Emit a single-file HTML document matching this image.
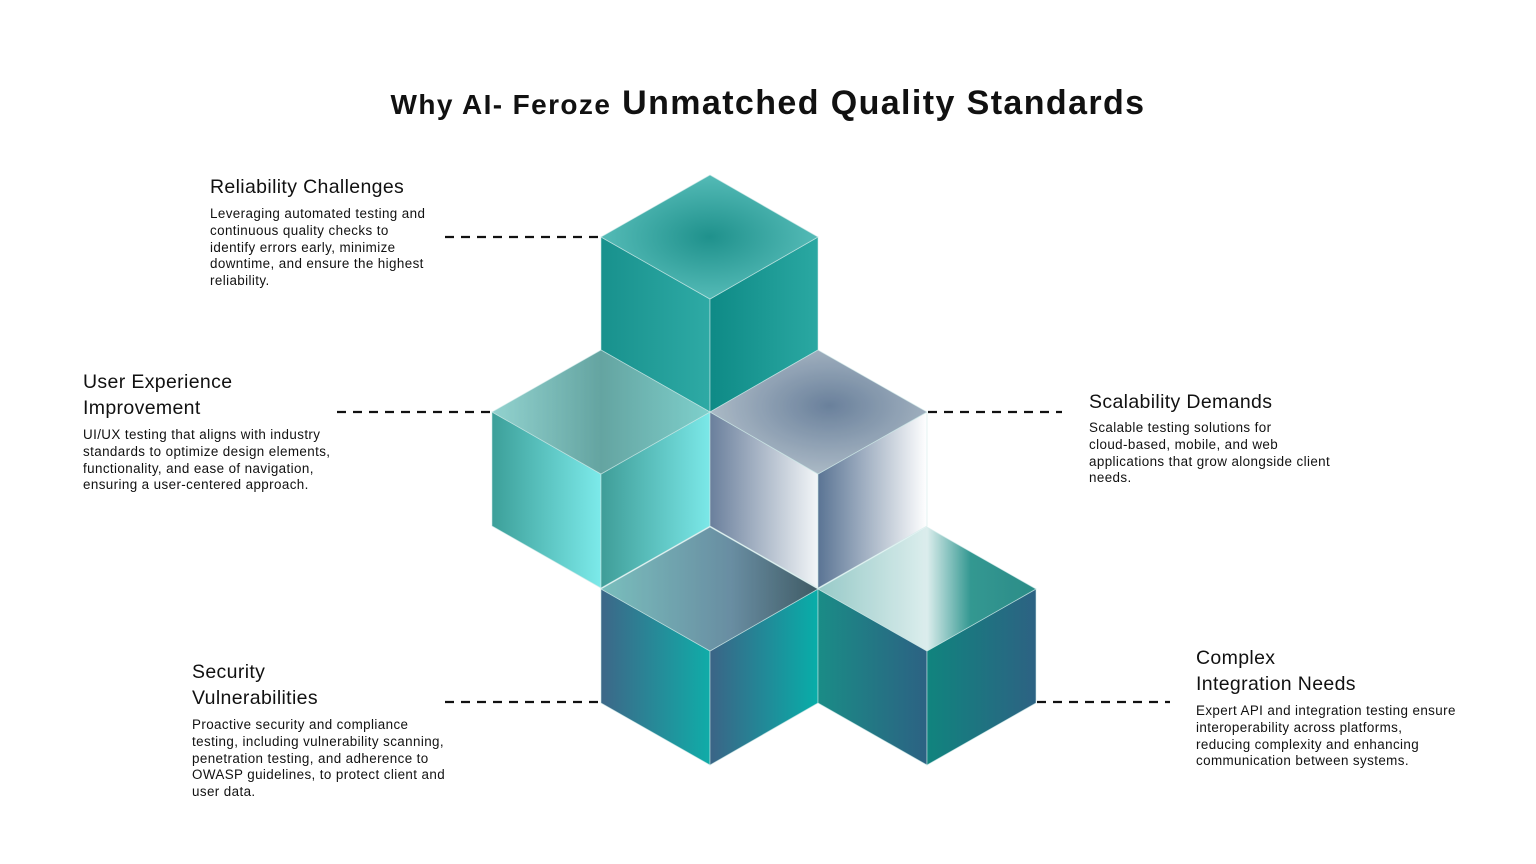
<!DOCTYPE html>
<html><head><meta charset="utf-8"><style>
html,body{margin:0;padding:0;background:#fff;}
body{width:1536px;height:864px;position:relative;overflow:hidden;font-family:"Liberation Sans",sans-serif;color:#111;}
.t{position:absolute;white-space:nowrap;}
h1{position:absolute;left:0;width:1536px;top:84px;margin:0;text-align:center;font-size:34px;font-weight:bold;letter-spacing:1.4px;}
h1 small{font-size:28px;}
.h{font-size:19.5px;line-height:26px;letter-spacing:0.35px;}
.b{font-size:13.4px;line-height:16.8px;letter-spacing:0.4px;}
svg{position:absolute;left:0;top:0;}
</style></head><body>
<h1><small>Why AI- Feroze</small> Unmatched Quality Standards</h1>

<svg width="1536" height="864" viewBox="0 0 1536 864">
<defs>
<linearGradient id="tl" x1="0" x2="1"><stop offset="0" stop-color="#18918d"/><stop offset="1" stop-color="#2eaaa5"/></linearGradient>
<linearGradient id="tr" x1="0" x2="1"><stop offset="0" stop-color="#0e8a86"/><stop offset="1" stop-color="#2aa8a2"/></linearGradient>
<radialGradient id="tt" cx="0.5" cy="0.5" r="0.6"><stop offset="0" stop-color="#1f918c"/><stop offset="1" stop-color="#5fc3bf"/></radialGradient>
<linearGradient id="ll" x1="0" x2="1"><stop offset="0" stop-color="#3c9f99"/><stop offset="1" stop-color="#7ceaea"/></linearGradient>
<linearGradient id="lr" x1="0" x2="1"><stop offset="0" stop-color="#3f9d98"/><stop offset="1" stop-color="#7be8e8"/></linearGradient>
<linearGradient id="lt" x1="0" x2="1"><stop offset="0" stop-color="#78c8c4"/><stop offset="0.5" stop-color="#3e8e8a"/><stop offset="1" stop-color="#5fc5c0"/></linearGradient>
<radialGradient id="rt" cx="0.55" cy="0.45" r="0.6"><stop offset="0" stop-color="#5a7391"/><stop offset="1" stop-color="#a9b8c4"/></radialGradient>
<linearGradient id="rl" x1="0" x2="1"><stop offset="0" stop-color="#6a7f9c"/><stop offset="1" stop-color="#f3f6f8"/></linearGradient>
<linearGradient id="rr" x1="0" x2="1"><stop offset="0" stop-color="#5a7494"/><stop offset="1" stop-color="#ffffff"/></linearGradient>
<linearGradient id="bl" x1="0" x2="1"><stop offset="0" stop-color="#3d6788"/><stop offset="1" stop-color="#10aca8"/></linearGradient>
<linearGradient id="br" x1="0" x2="1"><stop offset="0" stop-color="#3b6486"/><stop offset="1" stop-color="#08aea9"/></linearGradient>
<linearGradient id="bt" x1="0" x2="1"><stop offset="0" stop-color="#63b4b2"/><stop offset="0.6" stop-color="#4f7a92"/><stop offset="1" stop-color="#1e3e4a"/></linearGradient>
<linearGradient id="cl" x1="0" x2="1"><stop offset="0" stop-color="#1a8c86"/><stop offset="1" stop-color="#2c6283"/></linearGradient>
<linearGradient id="cr" x1="0" x2="1"><stop offset="0" stop-color="#10847e"/><stop offset="1" stop-color="#2d6283"/></linearGradient>
<linearGradient id="ct" x1="0" x2="1"><stop offset="0" stop-color="#8cc4c2"/><stop offset="0.5" stop-color="#d8eceb"/><stop offset="0.7" stop-color="#1e8d86"/><stop offset="1" stop-color="#15807b"/></linearGradient>
</defs>
<g stroke="#111" stroke-width="2.2" stroke-dasharray="9,7">
<line x1="445" y1="237" x2="600" y2="237"/>
<line x1="337" y1="412" x2="492" y2="412"/>
<line x1="928" y1="412" x2="1062" y2="412"/>
<line x1="445" y1="702" x2="600" y2="702"/>
<line x1="1037" y1="702" x2="1170" y2="702"/>
</g>
<g stroke="#cfe9e8" stroke-width="0.8" stroke-opacity="0.7">
<polygon points="601,237 710,299 710,412 601,350" fill="url(#tl)"/>
<polygon points="710,299 818,237 818,350 710,412" fill="url(#tr)"/>
<polygon points="710,175 818,237 710,299 601,237" fill="url(#tt)"/>
<polygon points="492,412 601,474 601,588 492,526" fill="url(#ll)"/>
<polygon points="601,474 710,412 710,526 601,588" fill="url(#lr)"/>
<polygon points="601,350 710,412 601,474 492,412" fill="url(#lt)" opacity="0.8"/>
<polygon points="710,412 818,474 818,588 710,526" fill="url(#rl)"/>
<polygon points="818,474 927,412 927,526 818,588" fill="url(#rr)"/>
<polygon points="818,350 927,412 818,474 710,412" fill="url(#rt)" opacity="0.9"/>
<polygon points="601,589 710,651 710,765 601,703" fill="url(#bl)"/>
<polygon points="710,651 818,589 818,703 710,765" fill="url(#br)"/>
<polygon points="710,527 818,589 710,651 601,589" fill="url(#bt)" opacity="0.85"/>
<polygon points="818,589 927,651 927,765 818,703" fill="url(#cl)"/>
<polygon points="927,651 1036,589 1036,703 927,765" fill="url(#cr)"/>
<polygon points="927,527 1036,589 927,651 818,589" fill="url(#ct)" opacity="0.9"/>
</g>
</svg>

<div class="t h" style="left:210px;top:174px;">Reliability Challenges</div>
<div class="t b" style="left:210px;top:206px;">Leveraging automated testing and<br>continuous quality checks to<br>identify errors early, minimize<br>downtime, and ensure the highest<br>reliability.</div>

<div class="t h" style="left:83px;top:369px;">User Experience<br>Improvement</div>
<div class="t b" style="left:83px;top:427px;">UI/UX testing that aligns with industry<br>standards to optimize design elements,<br>functionality, and ease of navigation,<br>ensuring a user-centered approach.</div>

<div class="t h" style="left:1089px;top:389px;">Scalability Demands</div>
<div class="t b" style="left:1089px;top:420px;">Scalable testing solutions for<br>cloud-based, mobile, and web<br>applications that grow alongside client<br>needs.</div>

<div class="t h" style="left:192px;top:659px;">Security<br>Vulnerabilities</div>
<div class="t b" style="left:192px;top:717px;">Proactive security and compliance<br>testing, including vulnerability scanning,<br>penetration testing, and adherence to<br>OWASP guidelines, to protect client and<br>user data.</div>

<div class="t h" style="left:1196px;top:645px;">Complex<br>Integration Needs</div>
<div class="t b" style="left:1196px;top:703px;">Expert API and integration testing ensure<br>interoperability across platforms,<br>reducing complexity and enhancing<br>communication between systems.</div>
</body></html>
